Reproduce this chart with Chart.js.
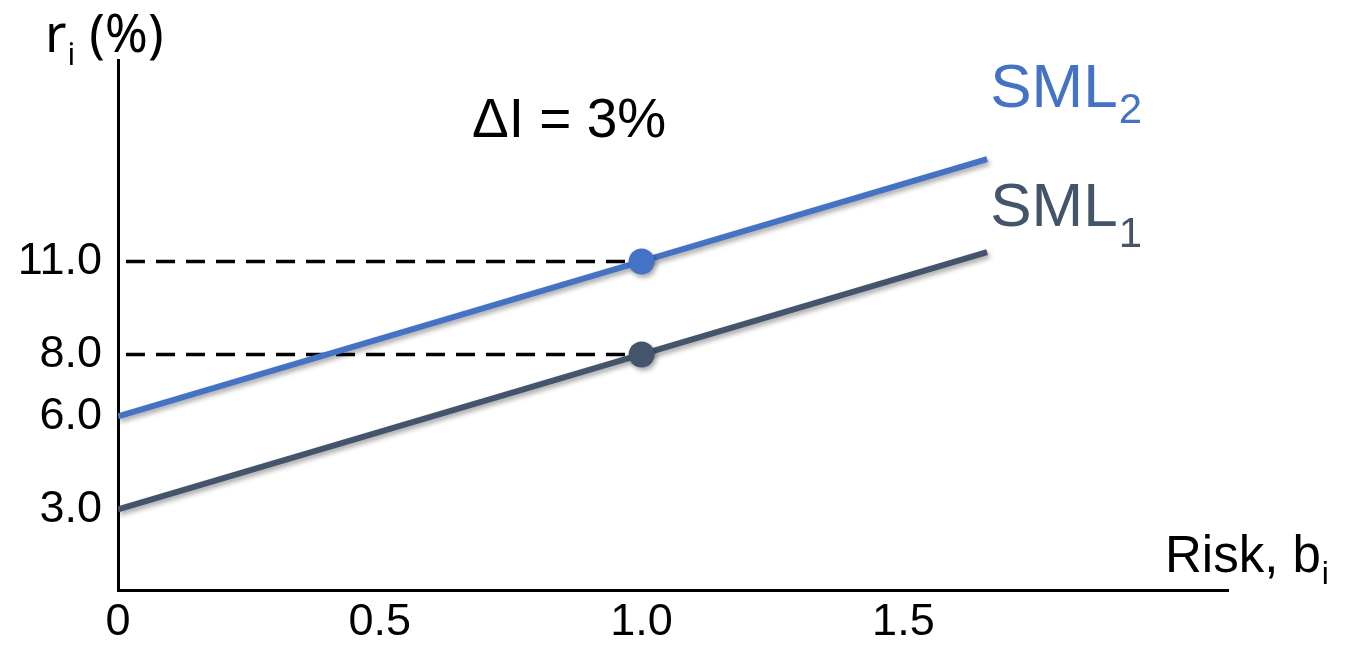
<!DOCTYPE html>
<html>
<head>
<meta charset="utf-8">
<script src="https://cdn.jsdelivr.net/npm/chart.js@4/dist/chart.umd.min.js"></script>
<style>
  html, body { margin: 0; padding: 0; background: #fff; }
  #wrap { width: 1348px; height: 646px; }
</style>
</head>
<body>
<div id="wrap"><canvas id="myChart"></canvas></div>
<script>
// beta values along the security market lines
const betas = [0, 1.0, 1.66];
const sml1 = [3.0, 8.0, 11.3];
const sml2 = [6.0, 11.0, 14.3];
const marketBeta = 1.0;
const marketReturns = [8.0, 11.0];

const xTicks = [0, 0.5, 1.0, 1.5];
const xTickLabels = ["0", "0.5", "1.0", "1.5"];
const yTicks = [3.0, 6.0, 8.0, 11.0];

const BLUE = "#4472C4";
const DARK = "#44546A";
const FONT = "'Liberation Sans', Arial, sans-serif";

const toPoints = (ys) => betas.map((b, i) => ({ x: b, y: ys[i] }));
const markerRadius = betas.map((b) => (b === marketBeta ? 13 : 0));

// text with a subscript
const drawSub = (ctx, main, sub, x, y, size, subSize, dy, color, family) => {
  ctx.fillStyle = color;
  ctx.textBaseline = "alphabetic";
  ctx.textAlign = "left";
  ctx.font = size + "px " + family;
  ctx.fillText(main, x, y);
  const w = ctx.measureText(main).width;
  ctx.font = subSize + "px " + family;
  ctx.fillText(sub, x + w + 1, y + dy);
  return x + w + 1 + ctx.measureText(sub).width;
};

const shadowPlugin = {
  id: "lineShadow",
  beforeDatasetDraw(chart, args) {
    if (args.index > 1) return;
    const ctx = chart.ctx;
    ctx.save();
    ctx.shadowColor = "rgba(0,0,0,0.35)";
    ctx.shadowBlur = 5;
    ctx.shadowOffsetX = 2;
    ctx.shadowOffsetY = 3;
  },
  afterDatasetDraw(chart, args) {
    if (args.index > 1) return;
    chart.ctx.restore();
  },
};

const textPlugin = {
  id: "texts",
  afterDraw(chart) {
    const ctx = chart.ctx;
    const area = chart.chartArea;
    const xs = chart.scales.x;
    const ys = chart.scales.y;
    ctx.save();

    // y axis title
    const end = drawSub(ctx, "r", "i", area.left - 73, 52, 52, 30, 13, "#000", "'Noto Sans', sans-serif");
    ctx.font = "52px 'Noto Sans', sans-serif";
    ctx.fillText("(%)", end + 14, 52);

    // x axis title
    drawSub(ctx, "Risk, b", "i", area.right - 63, 572, 51, 32, 12, "#000", FONT);

    // shift annotation
    ctx.fillStyle = "#000";
    ctx.font = "55px " + FONT;
    ctx.fillText("\u0394I = 3%", 472, 137);

    // line labels next to the line ends
    const last = betas.length - 1;
    const lx = xs.getPixelForValue(betas[last]) + 3;
    drawSub(ctx, "SML", "2", lx, ys.getPixelForValue(sml2[last]) - 52, 62, 42, 16, BLUE, FONT);
    drawSub(ctx, "SML", "1", lx, ys.getPixelForValue(sml1[last]) - 26, 62, 42, 21, DARK, FONT);

    ctx.restore();
  },
};

const config = {
  type: "line",
  data: {
    datasets: [
      {
        label: "SML2",
        data: toPoints(sml2),
        borderColor: BLUE,
        backgroundColor: BLUE,
        borderWidth: 6,
        pointRadius: markerRadius,
        pointBorderWidth: 0,
      },
      {
        label: "SML1",
        data: toPoints(sml1),
        borderColor: DARK,
        backgroundColor: DARK,
        borderWidth: 6,
        pointRadius: markerRadius,
        pointBorderWidth: 0,
      },
      ...marketReturns.map((r) => ({
        label: "ref " + r,
        data: [{ x: 0, y: r }, { x: marketBeta, y: r }],
        borderColor: "#000",
        borderWidth: 3.5,
        borderDash: [19, 11],
        borderDashOffset: -8,
        pointRadius: 0,
      })),
    ],
  },
  options: {
    responsive: true,
    maintainAspectRatio: false,
    animation: false,
    layout: { padding: { top: 60, right: 120, left: 0, bottom: 0 } },
    plugins: {
      legend: { display: false },
      tooltip: { enabled: false },
    },
    scales: {
      x: {
        type: "linear",
        min: 0,
        max: 2.12,
        afterFit: (s) => { s.height = 56; },
        afterBuildTicks: (s) => { s.ticks = xTicks.map((v) => ({ value: v })); },
        grid: { display: false, drawTicks: false },
        border: { display: true, color: "#000", width: 3 },
        ticks: {
          autoSkip: false,
          maxRotation: 0,
          padding: 6,
          color: "#000",
          font: { family: FONT, size: 45 },
          callback: (v) => xTickLabels[xTicks.indexOf(v)],
        },
      },
      y: {
        type: "linear",
        min: 0.4,
        max: 17.5,
        afterFit: (s) => { s.width = 118; },
        afterBuildTicks: (s) => { s.ticks = yTicks.map((v) => ({ value: v })); },
        grid: { display: false, drawTicks: false },
        border: { display: true, color: "#000", width: 3 },
        ticks: {
          autoSkip: false,
          padding: 16,
          color: "#000",
          font: { family: FONT, size: 45 },
          callback: (v) => v.toFixed(1),
        },
      },
    },
  },
  plugins: [shadowPlugin, textPlugin],
};

window.addEventListener("DOMContentLoaded", () => {
  new Chart(document.getElementById("myChart"), config);
});
</script>
</body>
</html>
